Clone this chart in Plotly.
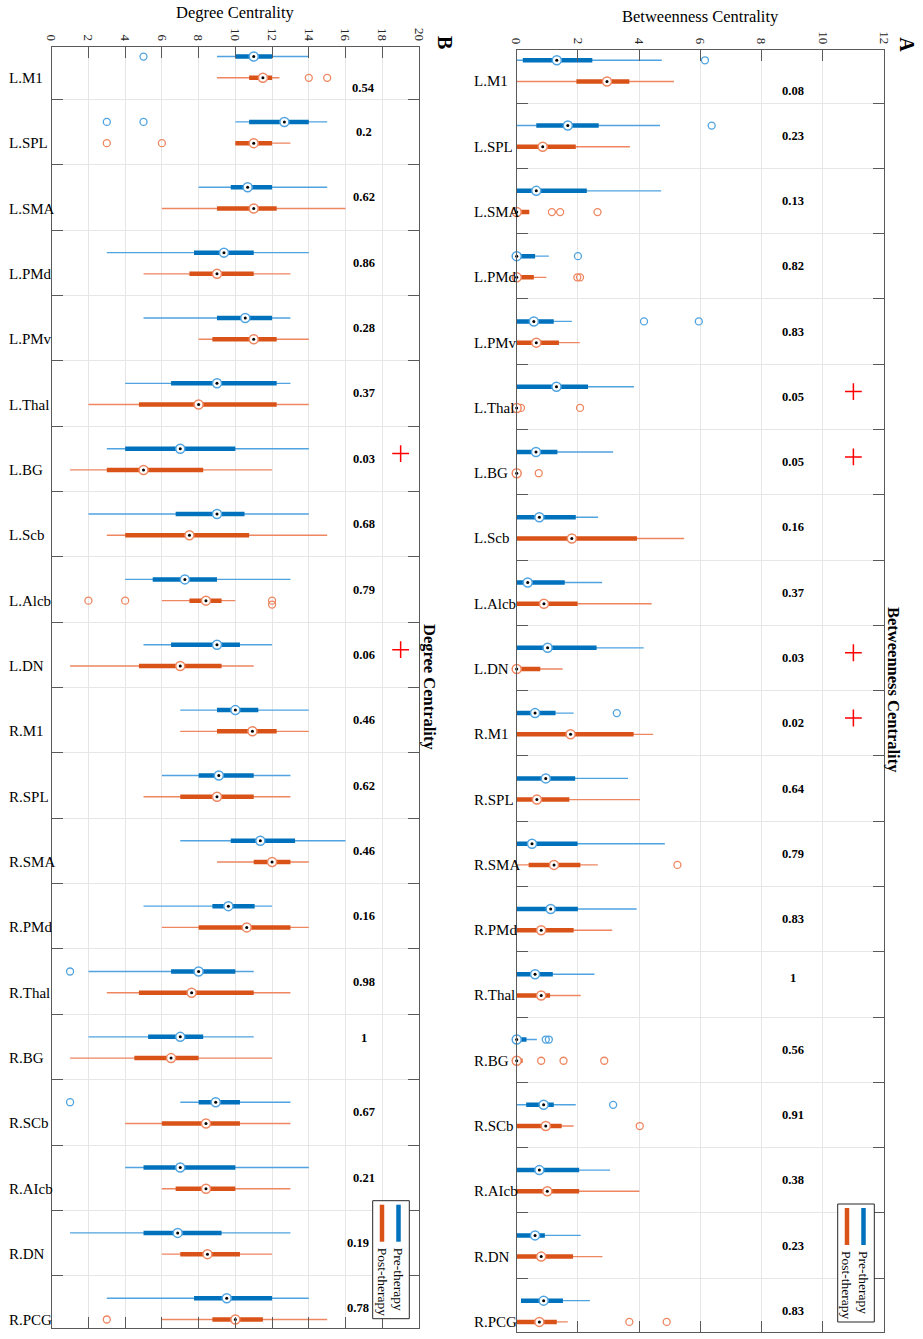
import plotly.graph_objects as go

W, H = 923, 1339

REGIONS = ["L.M1", "L.SPL", "L.SMA", "L.PMd", "L.PMv", "L.Thal", "L.BG", "L.Scb", "L.Alcb", "L.DN",
           "R.M1", "R.SPL", "R.SMA", "R.PMd", "R.Thal", "R.BG", "R.SCb", "R.AIcb", "R.DN", "R.PCG"]

# Betweenness centrality (panel A): whisker low, q1, median, q3, whisker high, outliers
BC_PRE_LO = [0, 0, 0, 0, 0, 0, 0, 0, 0, 0, 0, 0, 0, 0, 0, 0, 0, 0, 0, 0.14]
BC_PRE_Q1 = [0.2, 0.64, 0, 0, 0, 0, 0, 0, 0, 0, 0, 0, 0, 0, 0, 0, 0.31, 0, 0, 0.14]
BC_PRE_MED = [1.31, 1.67, 0.64, 0, 0.56, 1.30, 0.63, 0.74, 0.36, 1.01,
              0.60, 0.95, 0.50, 1.11, 0.60, 0, 0.88, 0.74, 0.60, 0.88]
BC_PRE_Q3 = [2.47, 2.68, 2.29, 0.60, 1.21, 2.33, 1.33, 1.93, 1.57, 2.61,
             1.27, 1.91, 1.99, 2.00, 1.18, 0.32, 1.21, 2.04, 0.92, 1.51]
BC_PRE_HI = [4.74, 4.68, 4.72, 1.05, 1.80, 3.83, 3.15, 2.66, 2.79, 4.15,
             1.86, 3.64, 4.84, 3.92, 2.54, 0.66, 1.93, 3.05, 2.09, 2.39]
BC_PRE_OUT = [[6.15], [6.37], [], [2.0], [4.16, 5.95], [], [], [], [], [],
              [3.27], [], [], [], [], [0.95, 1.05], [3.15], [], [], []]

BC_POST_LO = [0] * 20
BC_POST_Q1 = [1.95, 0, 0, 0, 0, 0, 0, 0, 0, 0, 0, 0, 0.39, 0, 0, 0, 0, 0, 0, 0]
BC_POST_MED = [2.95, 0.85, 0, 0, 0.64, 0, 0, 1.80, 0.89, 0,
               1.76, 0.66, 1.22, 0.80, 0.80, 0, 0.95, 1.00, 0.80, 0.74]
BC_POST_Q3 = [3.68, 1.93, 0.41, 0.56, 1.38, 0, 0, 3.93, 1.99, 0.77,
              3.82, 1.72, 2.08, 1.86, 1.09, 0.19, 1.47, 2.04, 1.84, 1.31]
BC_POST_HI = [5.14, 3.70, 0.41, 0.97, 2.06, 0, 0, 5.47, 4.41, 1.50,
              4.46, 4.03, 2.65, 3.12, 2.09, 0.19, 1.86, 4.01, 2.80, 1.67]
BC_POST_OUT = [[], [], [1.15, 1.42, 2.64], [1.98, 2.07], [], [0.14, 2.07], [0.72], [], [], [],
               [], [], [5.25], [], [], [0.80, 1.53, 2.86], [4.02], [], [], [3.68, 4.90]]

BC_P = [0.08, 0.23, 0.13, 0.82, 0.83, 0.05, 0.05, 0.16, 0.37, 0.03,
        0.02, 0.64, 0.79, 0.83, 1, 0.56, 0.91, 0.38, 0.23, 0.83]
BC_SIG = ["L.Thal", "L.BG", "L.DN", "R.M1"]

# Degree centrality (panel B)
DC_PRE_LO = [9, 10, 8, 3, 5, 4, 3, 2, 4, 5, 7, 6, 7, 5, 2, 2, 7, 4, 1, 3]
DC_PRE_Q1 = [10, 10.75, 9.75, 7.75, 9, 6.5, 4, 6.75, 5.5, 6.5,
             9, 8, 9.75, 8.75, 6.5, 5.25, 8, 5, 5, 7.75]
DC_PRE_MED = [11, 12.67, 10.67, 9.38, 10.54, 9, 7, 9, 7.25, 9,
              10, 9.1, 11.36, 9.62, 8, 7, 8.93, 7, 6.86, 9.53]
DC_PRE_Q3 = [12, 14, 12, 11, 12, 12.25, 10, 10.5, 9, 10.25,
             11.25, 11, 13.25, 11.05, 10, 8.25, 10.25, 10, 9.25, 12]
DC_PRE_HI = [14, 15, 15, 14, 13, 13, 14, 14, 13, 12, 14, 13, 16, 12, 11, 11, 13, 14, 13, 14]
DC_PRE_OUT = [[5], [3, 5], [], [], [], [], [], [], [], [],
              [], [], [], [], [1], [], [1], [], [], []]

DC_POST_LO = [9, 10, 6, 5, 8, 2, 1, 3, 6, 1, 7, 5, 9, 6, 3, 1, 4, 6, 6, 6]
DC_POST_Q1 = [10.75, 10, 9, 7.5, 8.75, 4.75, 3, 4, 7.5, 4.75,
              9, 7, 11, 8, 4.75, 4.5, 6, 6.75, 7, 8.75]
DC_POST_MED = [11.5, 11, 11, 9, 11, 8, 5, 7.5, 8.4, 7,
               10.93, 9, 12, 10.62, 7.62, 6.5, 8.4, 8.4, 8.48, 10]
DC_POST_Q3 = [12, 12, 12.25, 11, 12.25, 12.25, 8.25, 10.75, 9.25, 9.25,
              12.25, 11, 13, 13, 11, 8, 10.25, 10, 10.25, 11.5]
DC_POST_HI = [12.4, 13, 16, 13, 14, 14, 12, 15, 10, 11, 14, 13, 14, 14, 13, 12, 13, 13, 12, 15]
DC_POST_OUT = [[14, 15], [3, 6], [], [], [], [], [], [], [2, 4, 12, 12], [],
               [], [], [], [], [], [], [], [], [], [3]]

DC_P = [0.54, 0.2, 0.62, 0.86, 0.28, 0.37, 0.03, 0.68, 0.79, 0.06,
        0.46, 0.62, 0.46, 0.16, 0.98, 1, 0.67, 0.21, 0.19, 0.78]
DC_SIG = ["L.BG", "L.DN"]

BLUE, BLUE_LT = "#0072BD", "#4FA3E0"
ORANGE, ORANGE_LT = "#D95319", "#EE8660"
FRAME = "#5A5A5A"
GRID = "#E6E6E6"
FONT = "Liberation Serif"
PRE_OFF, POST_OFF = -0.155, 0.17


def px(x):
    return x / W


def py(y):
    return 1 - y / H


def add_group(fig, xa, ya, lo, q1, med, q3, hi, out, off, dark, light):
    ys = [i + off for i in range(len(REGIONS))]
    wx, wy, bx, by = [], [], [], []
    for y, a, b, c, d in zip(ys, lo, q1, q3, hi):
        wx += [a, d, None]
        wy += [y, y, None]
        bx += [b, c, None]
        by += [y, y, None]
    fig.add_trace(go.Scatter(x=wx, y=wy, mode="lines", line=dict(color=light, width=1.4),
                             xaxis=xa, yaxis=ya, hoverinfo="skip"))
    fig.add_trace(go.Scatter(x=bx, y=by, mode="lines", line=dict(color=dark, width=4.5),
                             xaxis=xa, yaxis=ya, hoverinfo="skip"))
    ox, oy = [], []
    for y, vals in zip(ys, out):
        seen = {}
        for v in vals:
            k = seen.get(v, 0)
            seen[v] = k + 1
            ox.append(v)
            oy.append(y + 0.06 * k)
    fig.add_trace(go.Scatter(x=ox, y=oy, mode="markers", cliponaxis=False,
                             marker=dict(symbol="circle-open", size=7, color=light,
                                         line=dict(width=1.3, color=light)),
                             xaxis=xa, yaxis=ya))
    fig.add_trace(go.Scatter(x=med, y=ys, mode="markers", cliponaxis=False,
                             marker=dict(symbol="circle", size=9, color="white",
                                         line=dict(width=1.5, color=light)),
                             xaxis=xa, yaxis=ya))
    fig.add_trace(go.Scatter(x=med, y=ys, mode="markers", cliponaxis=False,
                             marker=dict(symbol="circle", size=3, color="black"),
                             xaxis=xa, yaxis=ya))


fig = go.Figure()

# p-value label nudges (dx in data units, dy in rows) where the original text sat off-centre
panels = [
    ("x", "y", (DC_PRE_LO, DC_PRE_Q1, DC_PRE_MED, DC_PRE_Q3, DC_PRE_HI, DC_PRE_OUT),
     (DC_POST_LO, DC_POST_Q1, DC_POST_MED, DC_POST_Q3, DC_POST_HI, DC_POST_OUT),
     DC_P, DC_SIG, 17.0, 19.0, {0: (0, 0.33), 15: (0, -0.13), 18: (-0.3, 0), 19: (-0.3, 0)}),
    ("x2", "y2", (BC_PRE_LO, BC_PRE_Q1, BC_PRE_MED, BC_PRE_Q3, BC_PRE_HI, BC_PRE_OUT),
     (BC_POST_LO, BC_POST_Q1, BC_POST_MED, BC_POST_Q3, BC_POST_HI, BC_POST_OUT),
     BC_P, BC_SIG, 9.04, 11.0, {0: (0, 0.31), 14: (0, -0.1)}),
]

for xa, ya, pre, post, pvals, sig, p_x, sig_x, nudge in panels:
    add_group(fig, xa, ya, *pre, PRE_OFF, BLUE, BLUE_LT)
    add_group(fig, xa, ya, *post, POST_OFF, ORANGE, ORANGE_LT)
    sig_y = [REGIONS.index(r) - 0.08 for r in sig]
    fig.add_trace(go.Scatter(x=[sig_x] * len(sig_y), y=sig_y, mode="markers",
                             marker=dict(symbol="cross-thin", size=12,
                                         line=dict(width=1.5, color="red")),
                             xaxis=xa, yaxis=ya))
    for i, p in enumerate(pvals):
        dx, dy = nudge.get(i, (0, 0))
        fig.add_annotation(x=p_x + dx, y=i + dy, xref=xa, yref=ya, text=f"<b>{p:g}</b>",
                           xanchor="center", yanchor="middle", showarrow=False,
                           font=dict(family=FONT, size=12.5, color="black"))

axis_common = dict(showline=True, linecolor=FRAME, linewidth=1.2, mirror="allticks",
                   ticks="inside", ticklen=11, tickcolor=FRAME, tickwidth=1.2, automargin=False,
                   showgrid=True, gridcolor=GRID, gridwidth=1, zeroline=False)
sep_vals = [i + 0.5 for i in range(len(REGIONS) - 1)]

fig.update_layout(
    width=W, height=H, margin=dict(l=0, r=0, t=0, b=0, autoexpand=False),
    paper_bgcolor="white", plot_bgcolor="white", showlegend=False,
    font=dict(family=FONT, color="#262626"),
    xaxis=dict(domain=[px(51.7), px(419)], range=[0, 20], side="top", anchor="y",
               tickvals=list(range(0, 21, 2)), tickangle=90,
               tickfont=dict(family=FONT, size=13, color="#262626"), **axis_common),
    yaxis=dict(domain=[py(1328), py(46.7)], range=[19.30, -0.306], anchor="x",
               tickvals=sep_vals, showticklabels=False, **axis_common),
    xaxis2=dict(domain=[px(516.7), px(884)], range=[0, 12], side="top", anchor="y2",
                tickvals=list(range(0, 13, 2)), tickangle=90,
                tickfont=dict(family=FONT, size=13, color="#262626"), **axis_common),
    yaxis2=dict(domain=[py(1332), py(50)], range=[19.325, -0.3125], anchor="x2",
                tickvals=sep_vals, showticklabels=False, **axis_common),
)

# category labels, left aligned beside each panel
for xa, ya, left in (("x", "y", 7.3), ("x2", "y2", 472)):
    for i, r in enumerate(REGIONS):
        fig.add_annotation(x=px(left), xref="paper", y=i + POST_OFF, yref=ya, text=r,
                           xanchor="left", yanchor="middle", showarrow=False,
                           font=dict(family=FONT, size=15, color="black"))

# titles, side labels and panel letters
texts = [
    ("Degree Centrality", 235.3, 13, 0, False, 16.5),
    ("Betweenness Centrality", 700, 16, 0, False, 16.5),
    ("Degree Centrality", 430, 687, 90, True, 16.5),
    ("Betweenness Centrality", 894, 690, 90, True, 16.5),
    ("B", 445, 42, 90, True, 20),
    ("A", 906.7, 45, 90, True, 20),
]
for t, x, y, ang, bold, size in texts:
    fig.add_annotation(x=px(x), y=py(y), xref="paper", yref="paper",
                       text=f"<b>{t}</b>" if bold else t, textangle=ang, showarrow=False,
                       xanchor="center", yanchor="middle",
                       font=dict(family=FONT, size=size, color="black"))

# rotated legends drawn by hand
for bx0, by0 in ((372.7, 1200.7), (837.7, 1204)):
    fig.add_shape(type="rect", xref="paper", yref="paper",
                  x0=px(bx0), x1=px(bx0 + 36.6), y0=py(by0), y1=py(by0 + 118),
                  line=dict(color="#262626", width=1), fillcolor="white", layer="above")
    for dx, color, label in ((25.8, BLUE, "Pre-therapy"), (9.3, ORANGE, "Post-therapy")):
        fig.add_shape(type="line", xref="paper", yref="paper",
                      x0=px(bx0 + dx), x1=px(bx0 + dx), y0=py(by0 + 4), y1=py(by0 + 41),
                      line=dict(color=color, width=4.5), layer="above")
        fig.add_annotation(x=px(bx0 + dx), y=py(by0 + 45), xref="paper", yref="paper",
                           text=label, textangle=90, xanchor="center", yanchor="top",
                           showarrow=False, font=dict(family=FONT, size=13.5, color="black"))

# the page's default body margin would shift the whole figure by 8px
fig.write_html("out.html", config={"displayModeBar": False},
               post_script="document.body.style.margin='0px';")
